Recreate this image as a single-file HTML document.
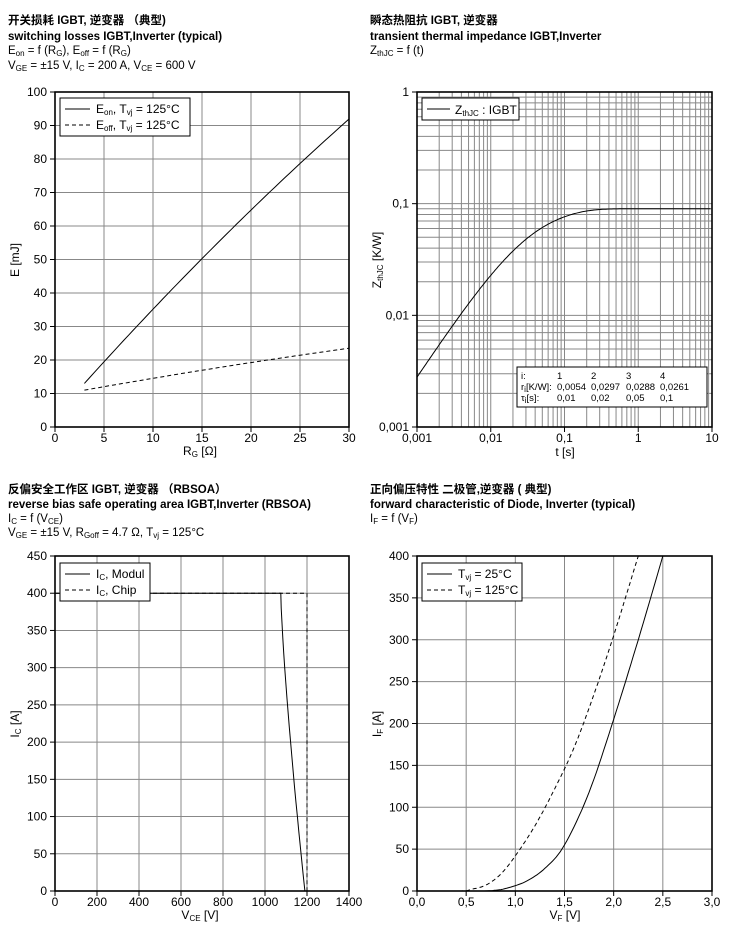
<!DOCTYPE html><html><head><meta charset="utf-8"><style>
body{margin:0;background:#fff;width:740px;height:932px;overflow:hidden}
svg{position:absolute;left:0;top:0}
text{font-family:"Liberation Sans","Noto Sans CJK SC",sans-serif;fill:#000}
</style></head><body>
<svg id="s" width="740" height="932" xmlns="http://www.w3.org/2000/svg">
<g font-size="11.5">
<text x="8" y="24" font-weight="bold">开关损耗 IGBT, 逆变器 （典型)</text>
<text x="8" y="40" font-weight="bold">switching losses  IGBT,Inverter (typical)</text>
<text x="8" y="54">E<tspan font-size="8" dy="2">on</tspan><tspan dy="-2"> = f (R</tspan><tspan font-size="8" dy="2">G</tspan><tspan dy="-2">), E</tspan><tspan font-size="8" dy="2">off</tspan><tspan dy="-2"> = f (R</tspan><tspan font-size="8" dy="2">G</tspan><tspan dy="-2">)</tspan></text>
<text x="8" y="69">V<tspan font-size="8" dy="2">GE</tspan><tspan dy="-2"> = ±15 V, I</tspan><tspan font-size="8" dy="2">C</tspan><tspan dy="-2"> = 200 A, V</tspan><tspan font-size="8" dy="2">CE</tspan><tspan dy="-2"> = 600 V</tspan></text>
<text x="370" y="24" font-weight="bold">瞬态热阻抗  IGBT, 逆变器</text>
<text x="370" y="40" font-weight="bold">transient thermal impedance  IGBT,Inverter</text>
<text x="370" y="54">Z<tspan font-size="8" dy="2">thJC</tspan><tspan dy="-2"> = f (t)</tspan></text>
<text x="8" y="493" font-weight="bold">反偏安全工作区  IGBT, 逆变器 （RBSOA）</text>
<text x="8" y="508" font-weight="bold">reverse bias safe operating area  IGBT,Inverter (RBSOA)</text>
<text x="8" y="522">I<tspan font-size="8" dy="2">C</tspan><tspan dy="-2"> = f (V</tspan><tspan font-size="8" dy="2">CE</tspan><tspan dy="-2">)</tspan></text>
<text x="8" y="536">V<tspan font-size="8" dy="2">GE</tspan><tspan dy="-2"> = ±15 V, R</tspan><tspan font-size="8" dy="2">Goff</tspan><tspan dy="-2"> = 4.7 Ω, T</tspan><tspan font-size="8" dy="2">vj</tspan><tspan dy="-2"> = 125°C</tspan></text>
<text x="370" y="493" font-weight="bold">正向偏压特性  二极管,逆变器 ( 典型)</text>
<text x="370" y="508" font-weight="bold">forward characteristic of  Diode, Inverter (typical)</text>
<text x="370" y="522">I<tspan font-size="8" dy="2">F</tspan><tspan dy="-2"> = f (V</tspan><tspan font-size="8" dy="2">F</tspan><tspan dy="-2">)</tspan></text>
</g>
</svg>
<script>
var s=document.getElementById('s'),NS='http://www.w3.org/2000/svg';
function el(t,a,txt){var e=document.createElementNS(NS,t);for(var k in a)e.setAttribute(k,a[k]);if(txt!=null)e.innerHTML=txt;s.appendChild(e);return e;}
function line(x1,y1,x2,y2,c,w,d){var a={x1:x1,y1:y1,x2:x2,y2:y2,stroke:c,'stroke-width':w};if(d)a['stroke-dasharray']=d;el('line',a);}
function txt(x,y,t,anchor,fs){el('text',{x:x,y:y,'text-anchor':anchor||'middle','font-size':fs||12},t);}
function poly(pts,d){var a={points:pts.map(p=>p[0].toFixed(1)+','+p[1].toFixed(1)).join(' '),fill:'none',stroke:'#000','stroke-width':1};if(d)a['stroke-dasharray']=d;el('polyline',a);}
function linChart(L,R,T,B,x0,x1,xs,y0,y1,ys,xf,yf){
 var X=v=>L+(v-x0)/(x1-x0)*(R-L),Y=v=>B-(v-y0)/(y1-y0)*(B-T);
 for(var v=x0;v<=x1+1e-9;v+=xs){var x=X(v);if(v>x0&&v<x1-1e-9)line(x,T,x,B,'#888',1);line(x,B,x,B+5,'#000',1);txt(x,B+15,xf(v));}
 for(var v=y0;v<=y1+1e-9;v+=ys){var y=Y(v);if(v>y0&&v<y1-1e-9)line(L,y,R,y,'#888',1);line(L-5,y,L,y,'#000',1);txt(L-8,y+4,yf(v),'end');}
 el('rect',{x:L,y:T,width:R-L,height:B-T,fill:'none',stroke:'#000','stroke-width':1.6});
 return [X,Y];}
function legend(x,y,w,rows){el('rect',{x:x,y:y,width:w,height:rows.length*16+6,fill:'#fff',stroke:'#000','stroke-width':1});
 rows.forEach((r,i)=>{var yy=y+15+i*16;line(x+5,yy-4,x+30,yy-4,'#000',1,r[1]?'4,3':null);el('text',{x:x+36,y:yy,'font-size':12},r[0]);});}
var sub=(a)=>'<tspan font-size="8" dy="2">'+a+'</tspan><tspan dy="-2">\u200b</tspan>';
// chart 1
var f=linChart(55,349,92,427,0,30,5,0,100,10,v=>v,v=>v),X=f[0],Y=f[1];
var p=[];for(var r=3;r<=30;r+=0.5){var e=13+(r-3)*3.25-(r-3)*(r-3)*0.0121;p.push([X(r),Y(e)]);}poly(p);
p=[];for(var r=3;r<=30;r+=0.5){var e=11+(r-3)*0.52-(r-3)*(r-3)*0.0021;p.push([X(r),Y(e)]);}poly(p,'4,3');
legend(60,98,130,[['E'+sub('on')+', T'+sub('vj')+' = 125°C',0],['E'+sub('off')+', T'+sub('vj')+' = 125°C',1]]);
txt(200,455,'R'+sub('G')+' [Ω]');
el('text',{x:0,y:0,'font-size':12,transform:'translate(19,260) rotate(-90)','text-anchor':'middle'},'E [mJ]');
// chart 2 thermal
var L=417,R=712,T=92,B=427;var XL=v=>L+(Math.log10(v)+3)/4*(R-L),YL=v=>B-(Math.log10(v)+3)/3*(B-T);
for(var d=-3;d<1;d++)for(var m=1;m<10;m++){var v=m*Math.pow(10,d);if(v>0.001&&v<10)line(XL(v),T,XL(v),B,'#888',1);}
for(var d=-3;d<0;d++)for(var m=1;m<10;m++){var v=m*Math.pow(10,d);if(v>0.001&&v<1)line(L,YL(v),R,YL(v),'#888',1);}
['0,001','0,01','0,1','1','10'].forEach((t,i)=>{var x=L+i*(R-L)/4;line(x,B,x,B+5,'#000',1);txt(x,B+15,t);});
['0,001','0,01','0,1','1'].forEach((t,i)=>{var y=B-i*(B-T)/3;line(L-5,y,L,y,'#000',1);txt(L-8,y+4,t,'end');});
el('rect',{x:L,y:T,width:R-L,height:B-T,fill:'none',stroke:'#000','stroke-width':1.6});
var rr=[0.0054,0.0297,0.0288,0.0261],tt=[0.01,0.02,0.05,0.1];p=[];
for(var lg=-3;lg<=1;lg+=0.02){var t=Math.pow(10,lg),z=0;for(var i=0;i<4;i++)z+=rr[i]*(1-Math.exp(-t/tt[i]));p.push([XL(t),YL(z)]);}poly(p);
el('rect',{x:422,y:98,width:97,height:22,fill:'#fff',stroke:'#000','stroke-width':1});
line(427,109,450,109,'#000',1);el('text',{x:455,y:114,'font-size':12},'Z'+sub('thJC')+' : IGBT');
el('rect',{x:517,y:367,width:190,height:40,fill:'#fff',stroke:'#000','stroke-width':1});
[['i:','1','2','3','4'],['r'+sub('i')+'[K/W]:','0,0054','0,0297','0,0288','0,0261'],['τ'+sub('i')+'[s]:','0,01','0,02','0,05','0,1']].forEach((r,j)=>{var xs=[521,557,591,626,660];r.forEach((c,k)=>el('text',{x:xs[k],y:379+j*11,'font-size':9.5},c));});
txt(565,456,'t [s]');
el('text',{x:0,y:0,'font-size':12,transform:'translate(381,260) rotate(-90)','text-anchor':'middle'},'Z'+sub('thJC')+' [K/W]');
// chart 3 RBSOA
f=linChart(55,349,556,891,0,1400,200,0,450,50,v=>v,v=>v);X=f[0];Y=f[1];
p=[[X(0),Y(400)],[X(1075),Y(400)]];for(var k=0;k<=20;k++){var u=k/20;p.push([X(1075+115*Math.pow(u,1.3)),Y(400*(1-u))]);}poly(p);
poly([[X(0),Y(400)],[X(1200),Y(400)],[X(1200),Y(0)]],'4,3');
legend(60,563,90,[['I'+sub('C')+', Modul',0],['I'+sub('C')+', Chip',1]]);
txt(200,919,'V'+sub('CE')+' [V]');
el('text',{x:0,y:0,'font-size':12,transform:'translate(19,724) rotate(-90)','text-anchor':'middle'},'I'+sub('C')+' [A]');
// chart 4 diode
f=linChart(417,712,556,891,0,3,0.5,0,400,50,v=>v.toFixed(1).replace('.',','),v=>v);X=f[0];Y=f[1];
function cr(P){var o=[];for(var i=0;i<P.length-1;i++){var p0=P[Math.max(0,i-1)],p1=P[i],p2=P[i+1],p3=P[Math.min(P.length-1,i+2)];for(var t=0;t<1;t+=0.1){var t2=t*t,t3=t2*t;var c=j=>0.5*(2*p1[j]+(-p0[j]+p2[j])*t+(2*p0[j]-5*p1[j]+4*p2[j]-p3[j])*t2+(-p0[j]+3*p1[j]-3*p2[j]+p3[j])*t3);o.push([X(c(0)),Y(Math.max(0,c(1)))]);}}var l=P[P.length-1];o.push([X(l[0]),Y(l[1])]);return o;}
poly(cr([[0,0],[0.65,0],[0.8,1],[0.9,3],[1.1,11],[1.3,27],[1.5,55],[1.75,118],[2.0,205],[2.25,300],[2.5,400]]));
poly(cr([[0,0],[0.45,0],[0.55,2],[0.7,7],[0.85,20],[1.0,42],[1.2,78],[1.4,122],[1.6,172],[1.8,235],[2.0,305],[2.25,400]]),'4,3');
legend(422,563,100,[['T'+sub('vj')+' = 25°C',0],['T'+sub('vj')+' = 125°C',1]]);
txt(565,919,'V'+sub('F')+' [V]');
el('text',{x:0,y:0,'font-size':12,transform:'translate(381,724) rotate(-90)','text-anchor':'middle'},'I'+sub('F')+' [A]');
</script>
</body></html>
